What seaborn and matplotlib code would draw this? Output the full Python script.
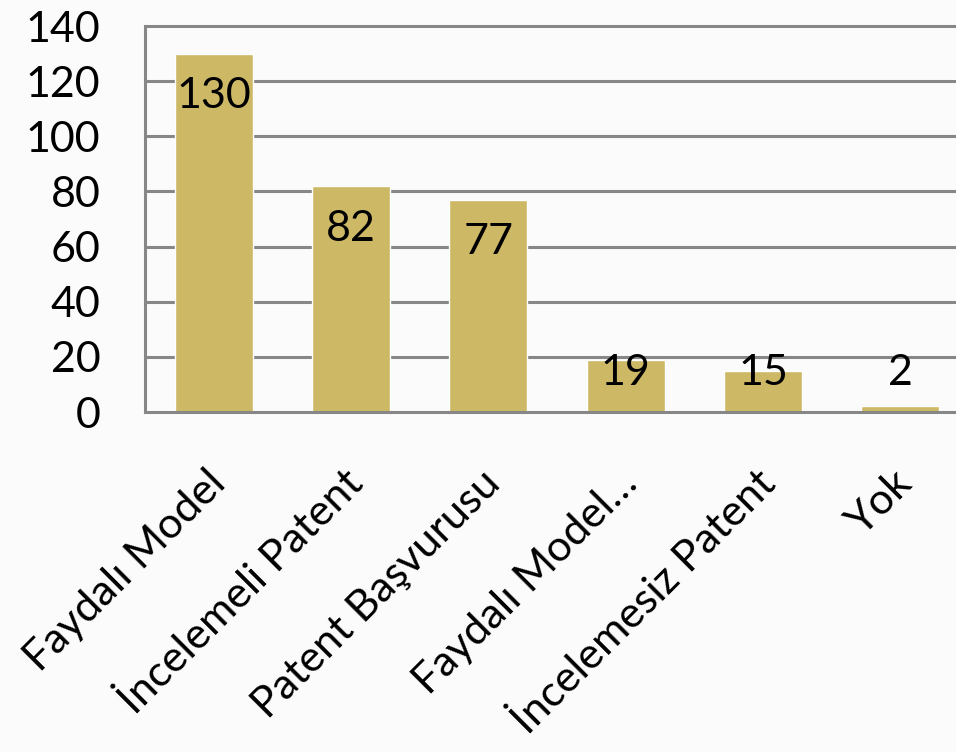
import matplotlib
matplotlib.use("Agg")
import matplotlib.pyplot as plt
import matplotlib.transforms as mtransforms
import seaborn as sns
import pandas as pd

categories = ["Faydalı Model", "İncelemeli Patent", "Patent Başvurusu",
              "Faydalı Model…", "İncelemesiz Patent", "Yok"]
values = [130, 82, 77, 19, 15, 2]
y_ticks = [0, 20, 40, 60, 80, 100, 120, 140]

sns.set_theme(style="white")
plt.rcParams['font.family'] = ['Lato', 'DejaVu Sans']

BAR = "#CDB866"
GRID = "#878787"
FS = 31

fig = plt.figure(figsize=(9.56, 7.52), dpi=100, facecolor="#FBFBFB")
ax = fig.add_axes([145/956, 1-412/752, 824/956, 386/752])
ax.set_facecolor("#FBFBFB")

df = pd.DataFrame({"cat": categories, "val": values})
sns.barplot(data=df, x="cat", y="val", color=BAR, saturation=1, width=0.57,
            ax=ax, zorder=3)
ax.set_xlim(-0.5, len(categories) - 0.5)
ax.set_ylim(0, 140)
ax.set_yticks(y_ticks)
ax.set_yticklabels([str(t) for t in y_ticks], fontsize=FS, color="black")
for t in y_ticks[1:]:
    ax.axhline(t, color=GRID, lw=2.2, zorder=1, clip_on=False)
ax.set_xlabel("")
ax.set_ylabel("")
for s in ["top", "right"]:
    ax.spines[s].set_visible(False)
for s in ["left", "bottom"]:
    ax.spines[s].set_color(GRID)
    ax.spines[s].set_linewidth(2.2)
    ax.spines[s].set_zorder(4)
ax.tick_params(axis="y", length=0, pad=32)
ax.tick_params(axis="x", length=0, pad=37)
ax.set_xticks(range(len(categories)))
ax.set_xticklabels(categories, rotation=45, ha="right", va="top",
                   rotation_mode="anchor", fontsize=FS, color="black")
shift = mtransforms.ScaledTranslation(-8/100, 0, fig.dpi_scale_trans)
for lab in ax.get_xticklabels():
    lab.set_transform(lab.get_transform() + shift)

for i, v in enumerate(values):
    yc = max(v, 29.6) - 15.5
    ax.text(i, yc, str(v), ha="center", va="center", fontsize=FS,
            color="black", zorder=5)

fig.savefig("out.png", dpi=100, facecolor=fig.get_facecolor())
